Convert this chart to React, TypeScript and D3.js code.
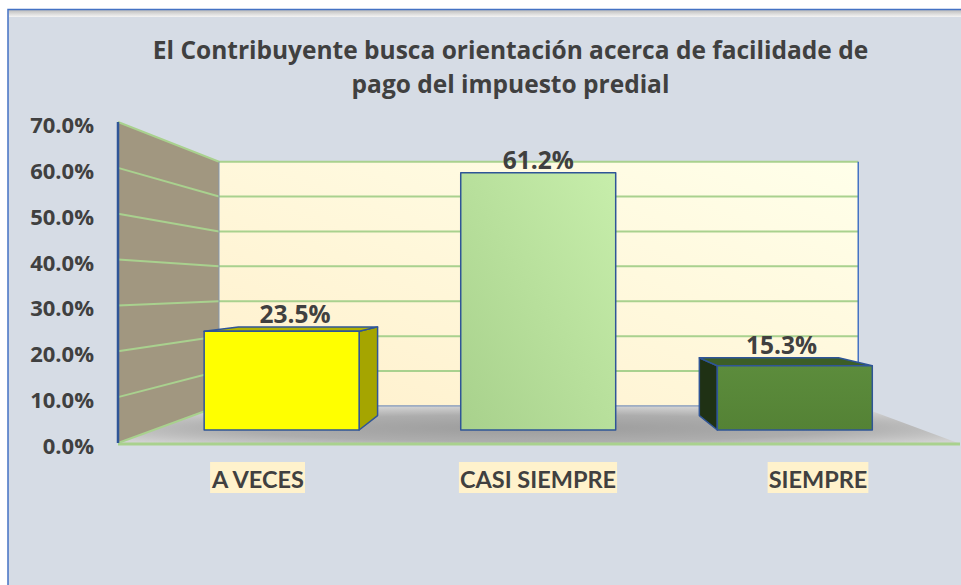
import React, { useEffect, useRef } from 'react';
import * as d3 from 'd3';

// Survey answers and their shares
const categories = ['A VECES', 'CASI SIEMPRE', 'SIEMPRE'];
const shares = [0.235, 0.612, 0.153];
const axisTicks = [0, 0.1, 0.2, 0.3, 0.4, 0.5, 0.6, 0.7];
const titleLines = [
  'El Contribuyente busca orientación acerca de facilidade de',
  'pago del impuesto predial',
];

// per-bar face colours: front, top, side
const barPalette = [
  { front: '#ffff00', top: '#b2b200', side: '#a5a500' },
  { front: 'url(#midBar)', top: '#9cc27e', side: '#8fb873' },
  { front: 'url(#rightBar)', top: '#3c5e27', side: '#1f3114' },
];

const W = 961;
const H = 585;
const FONT = 'Lato, "Open Sans", sans-serif';
const WIDE = '"Open Sans", Lato, sans-serif';
const TEXT = '#404040';
const GRID = '#a9d18e';
const EDGE = '#2f5597';

// simple one-point perspective: front plane -> back plane
const VX = 540.6;
const VY = 288;
const BACK = 0.761;
const proj = (xf: number, yf: number, t: number): [number, number] => {
  const s = 1 - t * (1 - BACK);
  return [VX + (xf - VX) * s, VY + (yf - VY) * s];
};
const T0 = 0.35; // bar front depth
const T1 = 0.74; // bar back depth

export default function App() {
  const svgRef = useRef<SVGSVGElement>(null);

  useEffect(() => {
    if (!svgRef.current) return;
    const svg = d3.select(svgRef.current);
    svg.selectAll('*').remove();

    const x = d3.scaleBand<string>()
      .domain(categories)
      .range([118, 958])
      .paddingInner(0.396)
      .paddingOuter(0.198);
    const y = d3.scaleLinear().domain([0, 0.7]).range([443, 122]);
    const fmt = d3.format('.1%');

    const defs = svg.append('defs');
    const lin = (id: string, x1: string, y1: string, x2: string, y2: string, stops: [string, string][]) => {
      const g = defs.append('linearGradient').attr('id', id)
        .attr('x1', x1).attr('y1', y1).attr('x2', x2).attr('y2', y2);
      stops.forEach(([o, c]) => g.append('stop').attr('offset', o).attr('stop-color', c));
    };
    lin('topBand', '0', '0', '0', '1', [['0', '#bdbdbd'], ['1', '#f4f4f4']]);
    lin('backWall', '0', '1', '1', '0', [['0', '#fff0cc'], ['1', '#ffffea']]);
    lin('midBar', '0', '1', '1', '0', [['0', '#a8d18c'], ['1', '#c7eeab']]);
    lin('rightBar', '0', '0', '0', '1', [['0', '#5c8c3c'], ['1', '#548235']]);
    const rad = defs.append('radialGradient').attr('id', 'floor')
      .attr('cx', '0.5').attr('cy', '0.6').attr('r', '0.6');
    rad.append('stop').attr('offset', '0').attr('stop-color', '#9c9c9c');
    rad.append('stop').attr('offset', '0.6').attr('stop-color', '#adadad');
    rad.append('stop').attr('offset', '1').attr('stop-color', '#d2d2d2');

    // page + chart frame
    svg.append('rect').attr('width', W).attr('height', H).attr('fill', '#ffffff');
    svg.append('rect').attr('x', 8).attr('y', 10).attr('width', W).attr('height', H)
      .attr('fill', '#d6dce5');
    svg.append('rect').attr('x', 9).attr('y', 10).attr('width', W).attr('height', 7)
      .attr('fill', 'url(#topBand)');
    svg.append('path').attr('d', `M8,${H} V9.5 H${W}`)
      .attr('fill', 'none').attr('stroke', '#4472c4').attr('stroke-width', 1.5);

    // title
    svg.append('g').selectAll('text').data(titleLines).join('text')
      .attr('x', 510.5)
      .attr('y', (d, i) => 59 + i * 34)
      .attr('text-anchor', 'middle')
      .attr('font-family', WIDE).attr('font-weight', 700).attr('font-size', 24.5)
      .attr('fill', TEXT)
      .text(d => d);

    const y0 = y(0);
    const yTop = y(0.7);
    const xL = 118;
    const xR = 958;
    const poly = (pts: [number, number][]) => 'M' + pts.map(p => p.join(',')).join('L') + 'Z';

    // back wall
    const bl = proj(xL, y0, 1), br = proj(xR, y0, 1), tl = proj(xL, yTop, 1), tr = proj(xR, yTop, 1);
    svg.append('path').attr('d', poly([bl, br, tr, tl])).attr('fill', 'url(#backWall)');
    // left wall
    svg.append('path').attr('d', poly([[xL, y0], bl, tl, [xL, yTop]])).attr('fill', '#a19780');
    // floor
    svg.append('path').attr('d', poly([[xL, y0], [xR, y0], br, bl])).attr('fill', 'url(#floor)');

    // gridlines on both walls
    const grid = svg.append('g').attr('stroke', GRID).attr('stroke-width', 2).attr('fill', 'none');
    axisTicks.filter(v => v > 0).forEach(v => {
      const a = proj(xL, y(v), 1);
      const b = proj(xR, y(v), 1);
      grid.append('path').attr('d', `M${xL},${y(v)}L${a[0]},${a[1]}L${b[0]},${b[1]}`);
    });
    grid.append('path').attr('d', `M${xL},${y0}L${bl[0]},${bl[1]}`);
    grid.append('line').attr('x1', xL).attr('x2', xR + 2).attr('y1', y0 + 1).attr('y2', y0 + 1)
      .attr('stroke-width', 3);
    svg.append('line').attr('x1', bl[0]).attr('x2', br[0]).attr('y1', bl[1]).attr('y2', br[1])
      .attr('stroke', '#7f96bb').attr('stroke-width', 1.2);
    svg.append('line').attr('x1', tl[0]).attr('x2', bl[0]).attr('y1', tl[1]).attr('y2', bl[1])
      .attr('stroke', '#8497b0').attr('stroke-width', 1);
    svg.append('line').attr('x1', tr[0]).attr('x2', br[0]).attr('y1', tr[1]).attr('y2', br[1])
      .attr('stroke', '#4472c4').attr('stroke-width', 1.5);
    svg.append('line').attr('x1', xL).attr('x2', xL).attr('y1', yTop).attr('y2', y0)
      .attr('stroke', EDGE).attr('stroke-width', 2.5);

    // y axis labels
    svg.append('g').selectAll('text').data(axisTicks).join('text')
      .attr('x', 94)
      .attr('y', d => y(d) + 2)
      .attr('dominant-baseline', 'central')
      .attr('text-anchor', 'end')
      .attr('font-family', WIDE).attr('font-weight', 700).attr('font-size', 22)
      .attr('fill', TEXT)
      .text(d => fmt(d));

    // data labels (drawn under the bars, like the original)
    const bw = x.bandwidth();
    svg.append('g').selectAll('text').data(categories).join('text')
      .attr('x', (d, i) => proj(x(d)! + bw / 2, y(shares[i]), 0.55)[0])
      .attr('y', (d, i) => Math.min(proj(0, y(shares[i]), T0)[1], proj(0, y(shares[i]), T1)[1]) - 4)
      .attr('text-anchor', 'middle')
      .attr('font-family', WIDE).attr('font-weight', 700).attr('font-size', 24.5)
      .attr('fill', TEXT)
      .text((d, i) => fmt(shares[i]));

    // 3D bars
    const bars = svg.append('g').attr('stroke', EDGE).attr('stroke-width', 1.5)
      .attr('stroke-linejoin', 'round');
    categories.forEach((c, i) => {
      const x0 = x(c)!;
      const x1 = x0 + bw;
      const yv = y(shares[i]);
      const col = barPalette[i];
      if (x1 < VX) {
        bars.append('path').attr('fill', col.side)
          .attr('d', poly([proj(x1, y0, T0), proj(x1, y0, T1), proj(x1, yv, T1), proj(x1, yv, T0)]));
      }
      if (x0 > VX) {
        bars.append('path').attr('fill', col.side)
          .attr('d', poly([proj(x0, y0, T0), proj(x0, y0, T1), proj(x0, yv, T1), proj(x0, yv, T0)]));
      }
      if (yv > VY) {
        bars.append('path').attr('fill', col.top)
          .attr('d', poly([proj(x0, yv, T0), proj(x1, yv, T0), proj(x1, yv, T1), proj(x0, yv, T1)]));
      }
      bars.append('path').attr('fill', col.front)
        .attr('d', poly([proj(x0, y0, T0), proj(x1, y0, T0), proj(x1, yv, T0), proj(x0, yv, T0)]));
    });

    // category labels with highlight boxes
    const cat = svg.append('g');
    categories.forEach(c => {
      const g = cat.append('g');
      const rect = g.append('rect').attr('fill', '#fff2cc');
      const t = g.append('text')
        .attr('x', x(c)! + bw / 2)
        .attr('y', 488)
        .attr('text-anchor', 'middle')
        .attr('font-family', FONT).attr('font-weight', 700).attr('font-size', 23.5)
        .attr('fill', TEXT)
        .text(c);
      const bb = (t.node() as SVGTextElement).getBBox();
      rect.attr('x', bb.x - 1).attr('width', bb.width + 2).attr('y', 462).attr('height', 31);
    });
  }, []);

  return (
    <div style={{ position: 'absolute', left: 0, top: 0, width: W, height: H, overflow: 'hidden' }}>
      <svg ref={svgRef} width={W} height={H} style={{ display: 'block' }} />
    </div>
  );
}
